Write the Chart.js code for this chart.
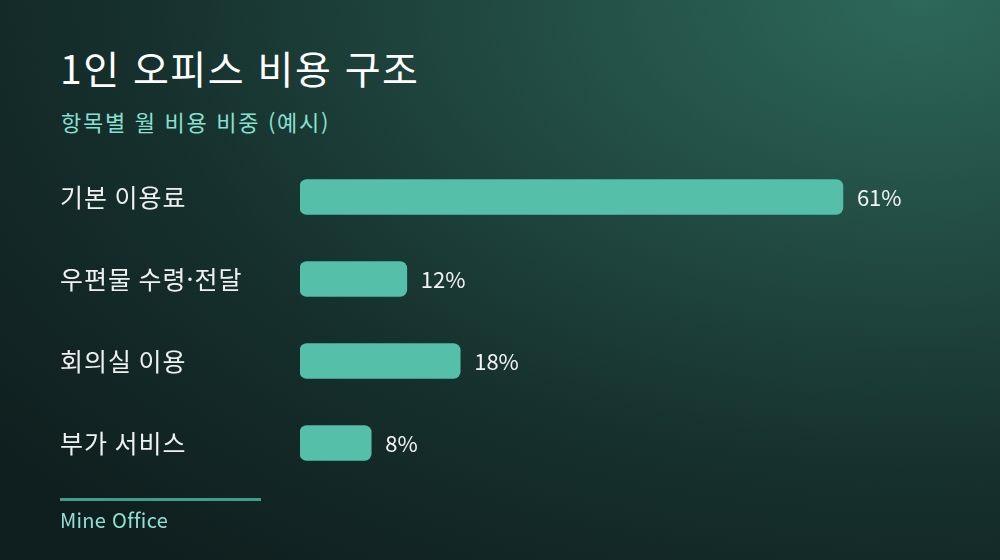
<!DOCTYPE html>
<html lang="ko">
<head>
<meta charset="utf-8">
<script src="https://cdn.jsdelivr.net/npm/chart.js@4.4.1/dist/chart.umd.min.js"></script>
<style>
  html, body { margin: 0; padding: 0; }
  body {
    width: 1000px; height: 560px; overflow: hidden; position: relative;
    font-family: "Noto Sans CJK KR", "Noto Sans", sans-serif;
    background: radial-gradient(ellipse 120% 130% at 92% 0%, #2d685a 0%, #214a42 35%, #16302d 65%, #0f1e1e 100%);
  }
  .title { position: absolute; left: 60px; top: 48px; font-size: 39px; line-height: 1; font-weight: 400; letter-spacing: 1.5px; color: #ffffff; }
  .sub { position: absolute; left: 61px; top: 110px; font-size: 22px; line-height: 1; letter-spacing: 1.7px; color: #88e0d0; }
  .rule { position: absolute; left: 60px; top: 498px; width: 201px; height: 3px; background: #3f9e8a; }
  .brand { position: absolute; left: 60px; top: 510px; font-size: 20px; line-height: 1; letter-spacing: 0.3px; color: #8ee2d2; }
  #wrap { position: absolute; left: 0; top: 0; width: 1000px; height: 560px; }
</style>
</head>
<body>
<div class="title">1인 오피스 비용 구조</div>
<div class="sub">항목별 월 비용 비중 (예시)</div>
<div id="wrap"><canvas id="chart"></canvas></div>
<div class="rule"></div>
<div class="brand">Mine Office</div>
<script>
// ---- data ----------------------------------------------------------------
const categories = ["기본 이용료", "우편물 수령·전달", "회의실 이용", "부가 서비스"];
const shares = [61, 12, 18, 8];

const FONT = '"Noto Sans CJK KR", "Noto Sans", sans-serif';

// value labels at the end of each bar
const valueLabels = {
  id: "valueLabels",
  beforeDraw(chart) {
    // a little tracking on the category labels
    chart.ctx.letterSpacing = "1px";
  },
  afterDatasetsDraw(chart) {
    const ctx = chart.ctx;
    const meta = chart.getDatasetMeta(0);
    ctx.save();
    ctx.letterSpacing = "0px";
    ctx.font = `22px ${FONT}`;
    ctx.fillStyle = "#f2f4f3";
    ctx.textAlign = "left";
    ctx.textBaseline = "middle";
    meta.data.forEach((bar, i) => {
      ctx.fillText(shares[i] + "%", bar.x + 14, bar.y + 1);
    });
    ctx.restore();
  },
};

new Chart(document.getElementById("chart"), {
  type: "bar",
  data: {
    labels: categories,
    datasets: [{
      data: shares,
      backgroundColor: "#55bfa9",
      borderRadius: 7,
      borderSkipped: false,
      barThickness: 35,
    }],
  },
  options: {
    indexAxis: "y",
    responsive: true,
    maintainAspectRatio: false,
    animation: false,
    layout: { padding: { top: 156, bottom: 76, left: 60, right: 77 } },
    plugins: { legend: { display: false }, tooltip: { enabled: false } },
    scales: {
      x: { display: false, min: 0, max: 70 },
      y: {
        grid: { display: false },
        border: { display: false },
        afterFit(axis) { axis.width = 240; },
        ticks: {
          crossAlign: "far",
          padding: 0,
          color: "#eef1f0",
          font: { family: FONT, size: 25 },
        },
      },
    },
  },
  plugins: [valueLabels],
});
</script>
</body>
</html>
